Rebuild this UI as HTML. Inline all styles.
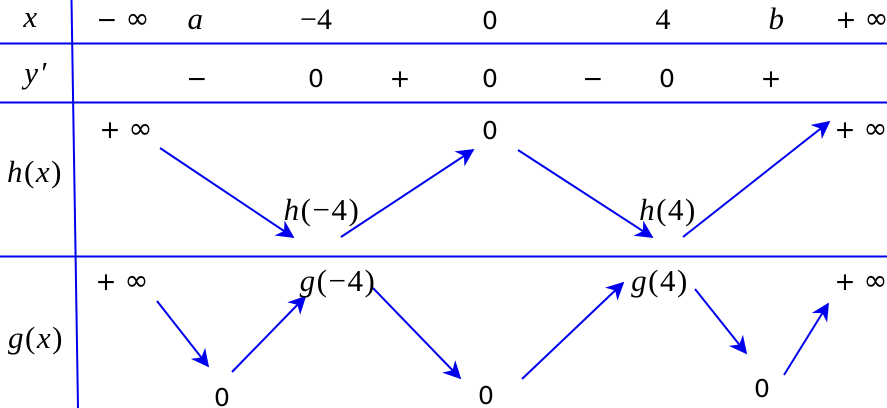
<!DOCTYPE html>
<html><head><meta charset="utf-8"><style>
html,body{margin:0;padding:0;background:#fff;}
svg{display:block}
.m{font-family:"Liberation Serif",serif;font-size:31px;fill:#000;letter-spacing:1.5px}
.m .i{font-style:italic}
.r{font-family:"Liberation Serif",serif;font-size:30px;fill:#000}
.s{font-family:"DejaVu Sans","Liberation Sans",sans-serif;font-size:25px;fill:#000}
.inf{font-size:29px}
</style></head><body>
<svg width="887" height="408" viewBox="0 0 887 408" xmlns="http://www.w3.org/2000/svg">
<defs>
<marker id="b" viewBox="0 0 10 10" refX="9" refY="5" markerWidth="18" markerHeight="18" orient="auto" markerUnits="userSpaceOnUse">
<path d="M0,0 L10,5 L0,10 L3,5 z" fill="#0000ee"/></marker></defs>
<g stroke="#0000ee" stroke-width="2">
<line x1="0" y1="43.5" x2="887" y2="43.5"/>
<line x1="0" y1="102.5" x2="887" y2="102.5"/>
<line x1="0" y1="256.5" x2="887" y2="256.5"/>
<line x1="71.5" y1="0" x2="78" y2="408"/>
</g>
<g stroke="#0000ee" stroke-width="2" fill="none" marker-end="url(#b)">
<line x1="160" y1="148" x2="293" y2="237"/>
<line x1="341" y1="237" x2="473" y2="150"/>
<line x1="518" y1="150" x2="652" y2="237"/>
<line x1="683" y1="237" x2="829" y2="122"/>
<line x1="157" y1="301" x2="208" y2="366"/>
<line x1="232" y1="372" x2="305" y2="297"/>
<line x1="373" y1="288" x2="460" y2="378"/>
<line x1="522" y1="379" x2="623" y2="283"/>
<line x1="695" y1="289" x2="746" y2="353"/>
<line x1="784" y1="375" x2="828" y2="304"/>
</g>
<g text-anchor="middle">
<text class="m" x="31" y="27"><tspan class="i">x</tspan></text>
<text class="s" x="123" y="28">− <tspan class="inf">∞</tspan></text>
<text class="m" x="196" y="29"><tspan class="i">a</tspan></text>
<text class="r" x="316" y="29">−4</text>
<text class="s" x="490" y="29">0</text>
<text class="r" x="663" y="29">4</text>
<text class="m" x="777" y="29"><tspan class="i">b</tspan></text>
<text class="s" x="862" y="28">+ <tspan class="inf">∞</tspan></text>

<text class="m" x="36" y="83"><tspan class="i">y′</tspan></text>
<text class="s" x="197" y="87">−</text>
<text class="s" x="316" y="87">0</text>
<text class="s" x="400" y="87">+</text>
<text class="s" x="490" y="87">0</text>
<text class="s" x="593" y="87">−</text>
<text class="s" x="667" y="87">0</text>
<text class="s" x="771" y="87">+</text>

<text class="m" x="35" y="182"><tspan class="i">h</tspan>(<tspan class="i">x</tspan>)</text>
<text class="s" x="126" y="138">+ <tspan class="inf">∞</tspan></text>
<text class="s" x="490" y="139">0</text>
<text class="s" x="861" y="138">+ <tspan class="inf">∞</tspan></text>
<text class="m" x="322" y="220"><tspan class="i">h</tspan>(−4)</text>
<text class="m" x="668" y="220"><tspan class="i">h</tspan>(4)</text>

<text class="m" x="36" y="348"><tspan class="i">g</tspan>(<tspan class="i">x</tspan>)</text>
<text class="s" x="122" y="290">+ <tspan class="inf">∞</tspan></text>
<text class="m" x="338" y="291"><tspan class="i">g</tspan>(−4)</text>
<text class="m" x="660" y="291"><tspan class="i">g</tspan>(4)</text>
<text class="s" x="861" y="290">+ <tspan class="inf">∞</tspan></text>
<text class="s" x="222" y="406">0</text>
<text class="s" x="486" y="404">0</text>
<text class="s" x="762" y="397">0</text>
</g>
</svg>
</body></html>
